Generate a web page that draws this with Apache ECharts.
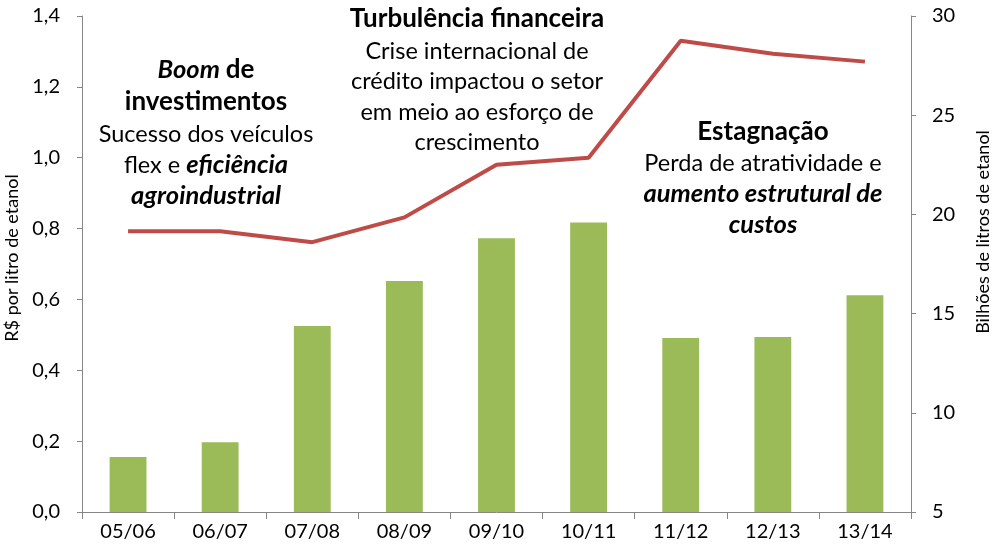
<!DOCTYPE html>
<html><head><meta charset="utf-8">
<script src="https://cdn.jsdelivr.net/npm/echarts@6/dist/echarts.min.js"></script>
<style>html,body{margin:0;padding:0;background:#fff}#c{width:1000px;height:559px}</style>
</head><body><div id="c"></div>
<script>
const categories = ['05/06','06/07','07/08','08/09','09/10','10/11','11/12','12/13','13/14'];
const barValues = [0.155, 0.197, 0.525, 0.652, 0.773, 0.817, 0.491, 0.494, 0.612];
const lineValues = [19.15, 19.15, 18.6, 19.85, 22.5, 22.85, 28.75, 28.1, 27.7];
const leftName = 'R$ por litro de etanol';
const rightName = 'Bilhões de litros de etanol';

const F = 'Lato, "Open Sans", sans-serif';
const chart = echarts.init(document.getElementById('c'));
const rich = {
  b: {fontFamily: F, fontSize: 26, fontWeight: 'bold', color:'#000'},
  bi: {fontFamily: F, fontSize: 25.5, fontWeight: 'bold', fontStyle: 'italic', color:'#000'},
  r: {fontFamily: F, fontSize: 23.5, color:'#000'}
};
function txt(x, y, t) {
  return {type: 'text', x: x, y: y, style: {text: t, rich: rich, align: 'center', verticalAlign: 'middle', fontFamily: F, fontSize: 23}};
}
chart.setOption({
  animation: false,
  grid: {left: 82, right: 89, top: 16, bottom: 47, containLabel: false, outerBoundsMode: 'none'},
  xAxis: {
    type: 'category', data: categories,
    axisLine: {lineStyle: {color: '#868686', width: 1}},
    axisTick: {show: true, length: 7, lineStyle: {color: '#868686'}},
    axisLabel: {color: '#000', fontSize: 20, fontFamily: F, margin: 10}
  },
  yAxis: [{
    type: 'value', min: 0, max: 1.4, interval: 0.2,
    name: leftName, nameLocation: 'middle', nameGap: 60, nameRotate: 90,
    nameTextStyle: {color: '#000', fontSize: 18, fontFamily: F, padding: [0, 0, 0, 12]},
    axisLine: {show: true, lineStyle: {color: '#868686'}},
    axisTick: {show: true, length: 5, lineStyle: {color: '#868686'}},
    splitLine: {show: false},
    axisLabel: {color: '#000', fontSize: 20, fontFamily: F, margin: 22,
      formatter: v => v.toFixed(1).replace('.', ',')}
  }, {
    type: 'value', min: 5, max: 30, interval: 5,
    name: rightName, nameLocation: 'middle', nameGap: 63, nameRotate: 90,
    nameTextStyle: {color: '#000', fontSize: 18, fontFamily: F, padding: [0, 0, 0, 64]},
    axisLine: {show: true, lineStyle: {color: '#868686'}},
    axisTick: {show: true, length: 5, lineStyle: {color: '#868686'}},
    splitLine: {show: false},
    axisLabel: {color: '#000', fontSize: 20, fontFamily: F, margin: 21}
  }],
  series: [{
    type: 'bar', data: barValues, yAxisIndex: 0, barWidth: '40%',
    itemStyle: {color: '#9BBB59'}
  }, {
    type: 'line', data: lineValues, yAxisIndex: 1, symbol: 'none',
    lineStyle: {color: '#BE4B48', width: 4}
  }],
  graphic: [
    txt(206, 70, '{bi|Boom} {b|de}'),
    txt(206, 102, '{b|investimentos}'),
    txt(206, 134, '{r|Sucesso dos veículos}'),
    txt(206, 165, '{r|flex e }{bi|eficiência}'),
    txt(206, 196, '{bi|agroindustrial}'),
    txt(477, 19, '{b|Turbulência financeira}'),
    txt(477, 51, '{r|Crise internacional de}'),
    txt(477, 81, '{r|crédito impactou o setor}'),
    txt(477, 112, '{r|em meio ao esforço de}'),
    txt(477, 142, '{r|crescimento}'),
    txt(763, 132, '{b|Estagnação}'),
    txt(763, 163, '{r|Perda de atratividade e}'),
    txt(763, 194, '{bi|aumento estrutural de}'),
    txt(763, 225, '{bi|custos}')
  ]
});
</script></body></html>
